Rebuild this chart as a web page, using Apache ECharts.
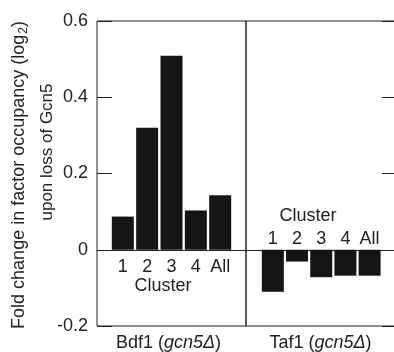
<!DOCTYPE html>
<html><head><meta charset="utf-8">
<script src="https://cdn.jsdelivr.net/npm/echarts@6/dist/echarts.min.js"></script>
<style>html,body{margin:0;padding:0;background:#fff}#c{width:394px;height:352px}</style>
</head><body><div id="c"></div>
<script>
const clusters = ['1', '2', '3', '4', 'All'];
const bdf1Values = [0.087, 0.32, 0.509, 0.103, 0.143];
const taf1Values = [-0.11, -0.031, -0.072, -0.068, -0.068];
const yTicks = [-0.2, 0, 0.2, 0.4, 0.6];
const panelTitles = ['Bdf1', 'Taf1'];
const groupLabel = 'Cluster';
const yTitle1 = 'Fold change in factor occupancy (log';
const yTitle2 = 'upon loss of Gcn5';

const FONT = "'Liberation Sans', Arial, Helvetica, sans-serif";
const INK = '#222';
const BAR = '#151515';

const chart = echarts.init(document.getElementById('c'), null, {renderer: 'canvas'});

const positions = clusters.map((c, i) => i + 1);
const toData = vals => vals.map((v, i) => [positions[i], v]);
const labelFmt = p => clusters[p.dataIndex];

function panelAxes(gridIndex, min, max, title, titleShift) {
  return [
    {
      gridIndex, type: 'value', min, max, position: 'bottom',
      axisLine: {show: false, onZero: false}, axisTick: {show: false}, axisLabel: {show: false},
      splitLine: {show: false},
      name: '{n|' + title + ' (}{i|gcn5Δ}{n|)}', nameLocation: 'middle', nameGap: 8,
      nameTextStyle: {
        padding: [0, titleShift, 0, 0],
        rich: {
          n: {fontFamily: FONT, fontSize: 18, color: INK},
          i: {fontFamily: FONT, fontSize: 18, color: INK, fontStyle: 'italic'}
        }
      }
    },
    {
      gridIndex, type: 'value', min, max, position: 'bottom',
      axisLine: {show: true, onZero: true, lineStyle: {color: INK, width: 1}},
      axisTick: {show: false}, axisLabel: {show: false}, splitLine: {show: false}
    }
  ];
}

const yBase = {
  type: 'value', min: yTicks[0], max: yTicks[yTicks.length - 1], interval: yTicks[1] - yTicks[0],
  splitLine: {show: false}, axisLine: {show: false, onZero: false},
  axisTick: {show: true, inside: true, length: 15, lineStyle: {color: INK, width: 1}}
};

const labelStyle = {fontFamily: FONT, fontSize: 18, color: INK};

const option = {
  animation: false,
  backgroundColor: '#fff',
  grid: [
    {left: 97, top: 21, width: 149, height: 305, show: true, borderColor: INK, borderWidth: 1, outerBoundsMode: 'none', containLabel: false},
    {left: 246, top: 21, width: 149, height: 305, show: true, borderColor: INK, borderWidth: 1, outerBoundsMode: 'none', containLabel: false}
  ],
  xAxis: [
    ...panelAxes(0, -0.06, 6.06, panelTitles[0], 6),
    ...panelAxes(1, -0.11, 6.05, panelTitles[1], 0)
  ],
  yAxis: [
    Object.assign({}, yBase, {
      gridIndex: 0, position: 'left',
      axisLabel: {show: true, margin: 9, fontFamily: FONT, fontSize: 18, color: INK,
        formatter: v => String(Math.round(v * 10) / 10)}
    }),
    Object.assign({}, yBase, {
      gridIndex: 1, position: 'right', axisLabel: {show: false},
      axisTick: {show: true, inside: true, length: 13, lineStyle: {color: INK, width: 1}}
    })
  ],
  series: [
    {type: 'bar', xAxisIndex: 1, yAxisIndex: 0, data: toData(bdf1Values), barWidth: 22,
      itemStyle: {color: BAR},
      label: Object.assign({show: true, position: 'bottom', distance: 8, formatter: labelFmt}, labelStyle)},
    {type: 'bar', xAxisIndex: 3, yAxisIndex: 1, data: toData(taf1Values), barWidth: 22,
      itemStyle: {color: BAR},
      label: Object.assign({show: true, position: 'top', distance: 2, formatter: labelFmt}, labelStyle)}
  ],
  graphic: [
    {
      type: 'text', x: 19, y: 175, rotation: Math.PI / 2,
      style: {
        text: '{a|' + yTitle1 + '}{s|2}{a|)}',
        align: 'center', verticalAlign: 'middle',
        rich: {
          a: {fontFamily: FONT, fontSize: 18, fill: INK, lineHeight: 22},
          s: {fontFamily: FONT, fontSize: 12, fill: INK, lineHeight: 22, verticalAlign: 'bottom', padding: [10, 0, 0, 1]}
        }
      }
    },
    {
      type: 'text', x: 47, y: 152, rotation: Math.PI / 2,
      style: {
        text: yTitle2, align: 'center', verticalAlign: 'middle',
        fontFamily: FONT, fontSize: 17, fill: INK
      }
    },
    {
      type: 'text', x: 163, y: 286,
      style: {text: groupLabel, align: 'center', verticalAlign: 'middle', fontFamily: FONT, fontSize: 18, fill: INK}
    },
    {
      type: 'text', x: 308, y: 216,
      style: {text: groupLabel, align: 'center', verticalAlign: 'middle', fontFamily: FONT, fontSize: 18, fill: INK}
    }
  ]
};
chart.setOption(option);
</script>
</body></html>
